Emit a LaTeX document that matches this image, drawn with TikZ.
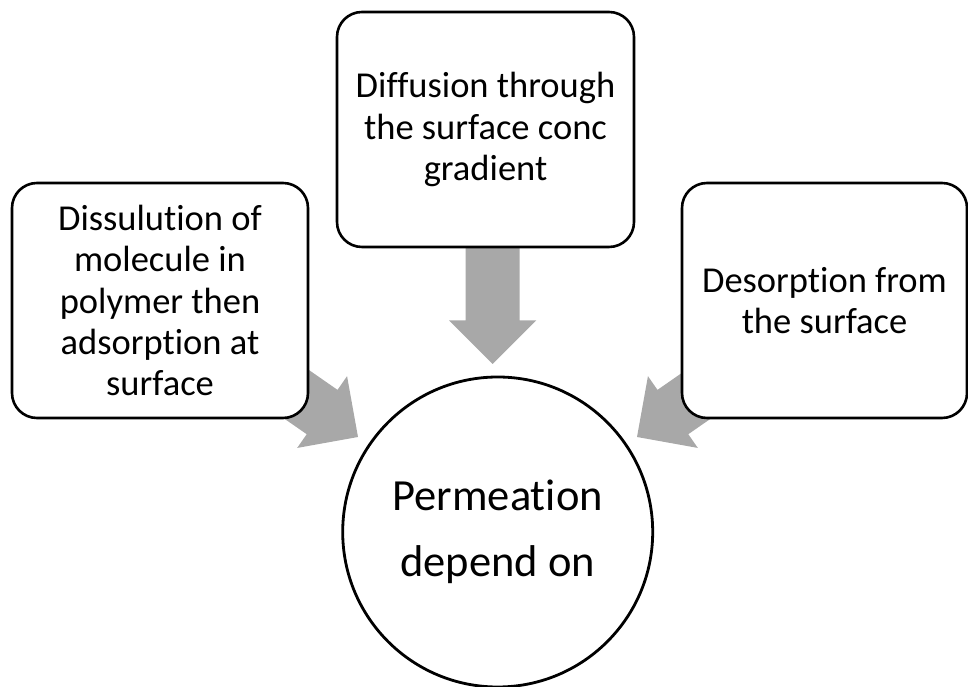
\documentclass[tikz,border=0pt]{standalone}
\usepackage{fontspec}
\setmainfont{Carlito}[Ligatures={NoCommon}]
\definecolor{arrowgray}{HTML}{A8A8A8}
\tikzset{
  infobox/.style={draw=black, line width=2.6pt, fill=white, rounded corners=25pt,
    align=center, inner sep=0pt, minimum height=235pt,
    font=\fontsize{36.5}{41.3}\selectfont},
  hubcircle/.style={draw=black, line width=2.8pt, fill=white, circle, minimum size=310pt,
    align=center, inner sep=0pt, font=\fontsize{44.5}{66}\selectfont},
  pics/blockarrow/.style={code={
    \fill[arrowgray] (0,0) -- (-43.7,43.7) -- (-43.7,27) -- (-#1,27) -- (-#1,-27)
      -- (-43.7,-27) -- (-43.7,-43.7) -- cycle;}}
}
\begin{document}
\begin{tikzpicture}[x=1pt,y=1pt]
\useasboundingbox (0,0) rectangle (968,687);
% tips of the block arrows
\coordinate (ltip) at (358,250);
\coordinate (mtip) at (492.7,323);
\coordinate (rtip) at (637,250);
\pic[shift={(ltip)}, rotate=-34.8] {blockarrow=125};
\pic[shift={(mtip)}, rotate=-90] {blockarrow=130};
\pic[shift={(rtip)}, rotate=-145.2] {blockarrow=125};
% boxes
\node[infobox, minimum width=296pt] (left) at (160,386.5)
  {Dissulution of\\molecule in\\polymer then\\adsorption at\\surface};
\node[infobox, minimum width=297pt] (mid) at (485.5,557.5)
  {Diffusion through\\the surface conc\\gradient};
\node[infobox, minimum width=285pt] (right) at (824.5,386.5)
  {Desorption from\\the surface};
% hub
\node[hubcircle] (hub) at (497.7,155) {Permeation\\depend on};
\end{tikzpicture}
\end{document}
